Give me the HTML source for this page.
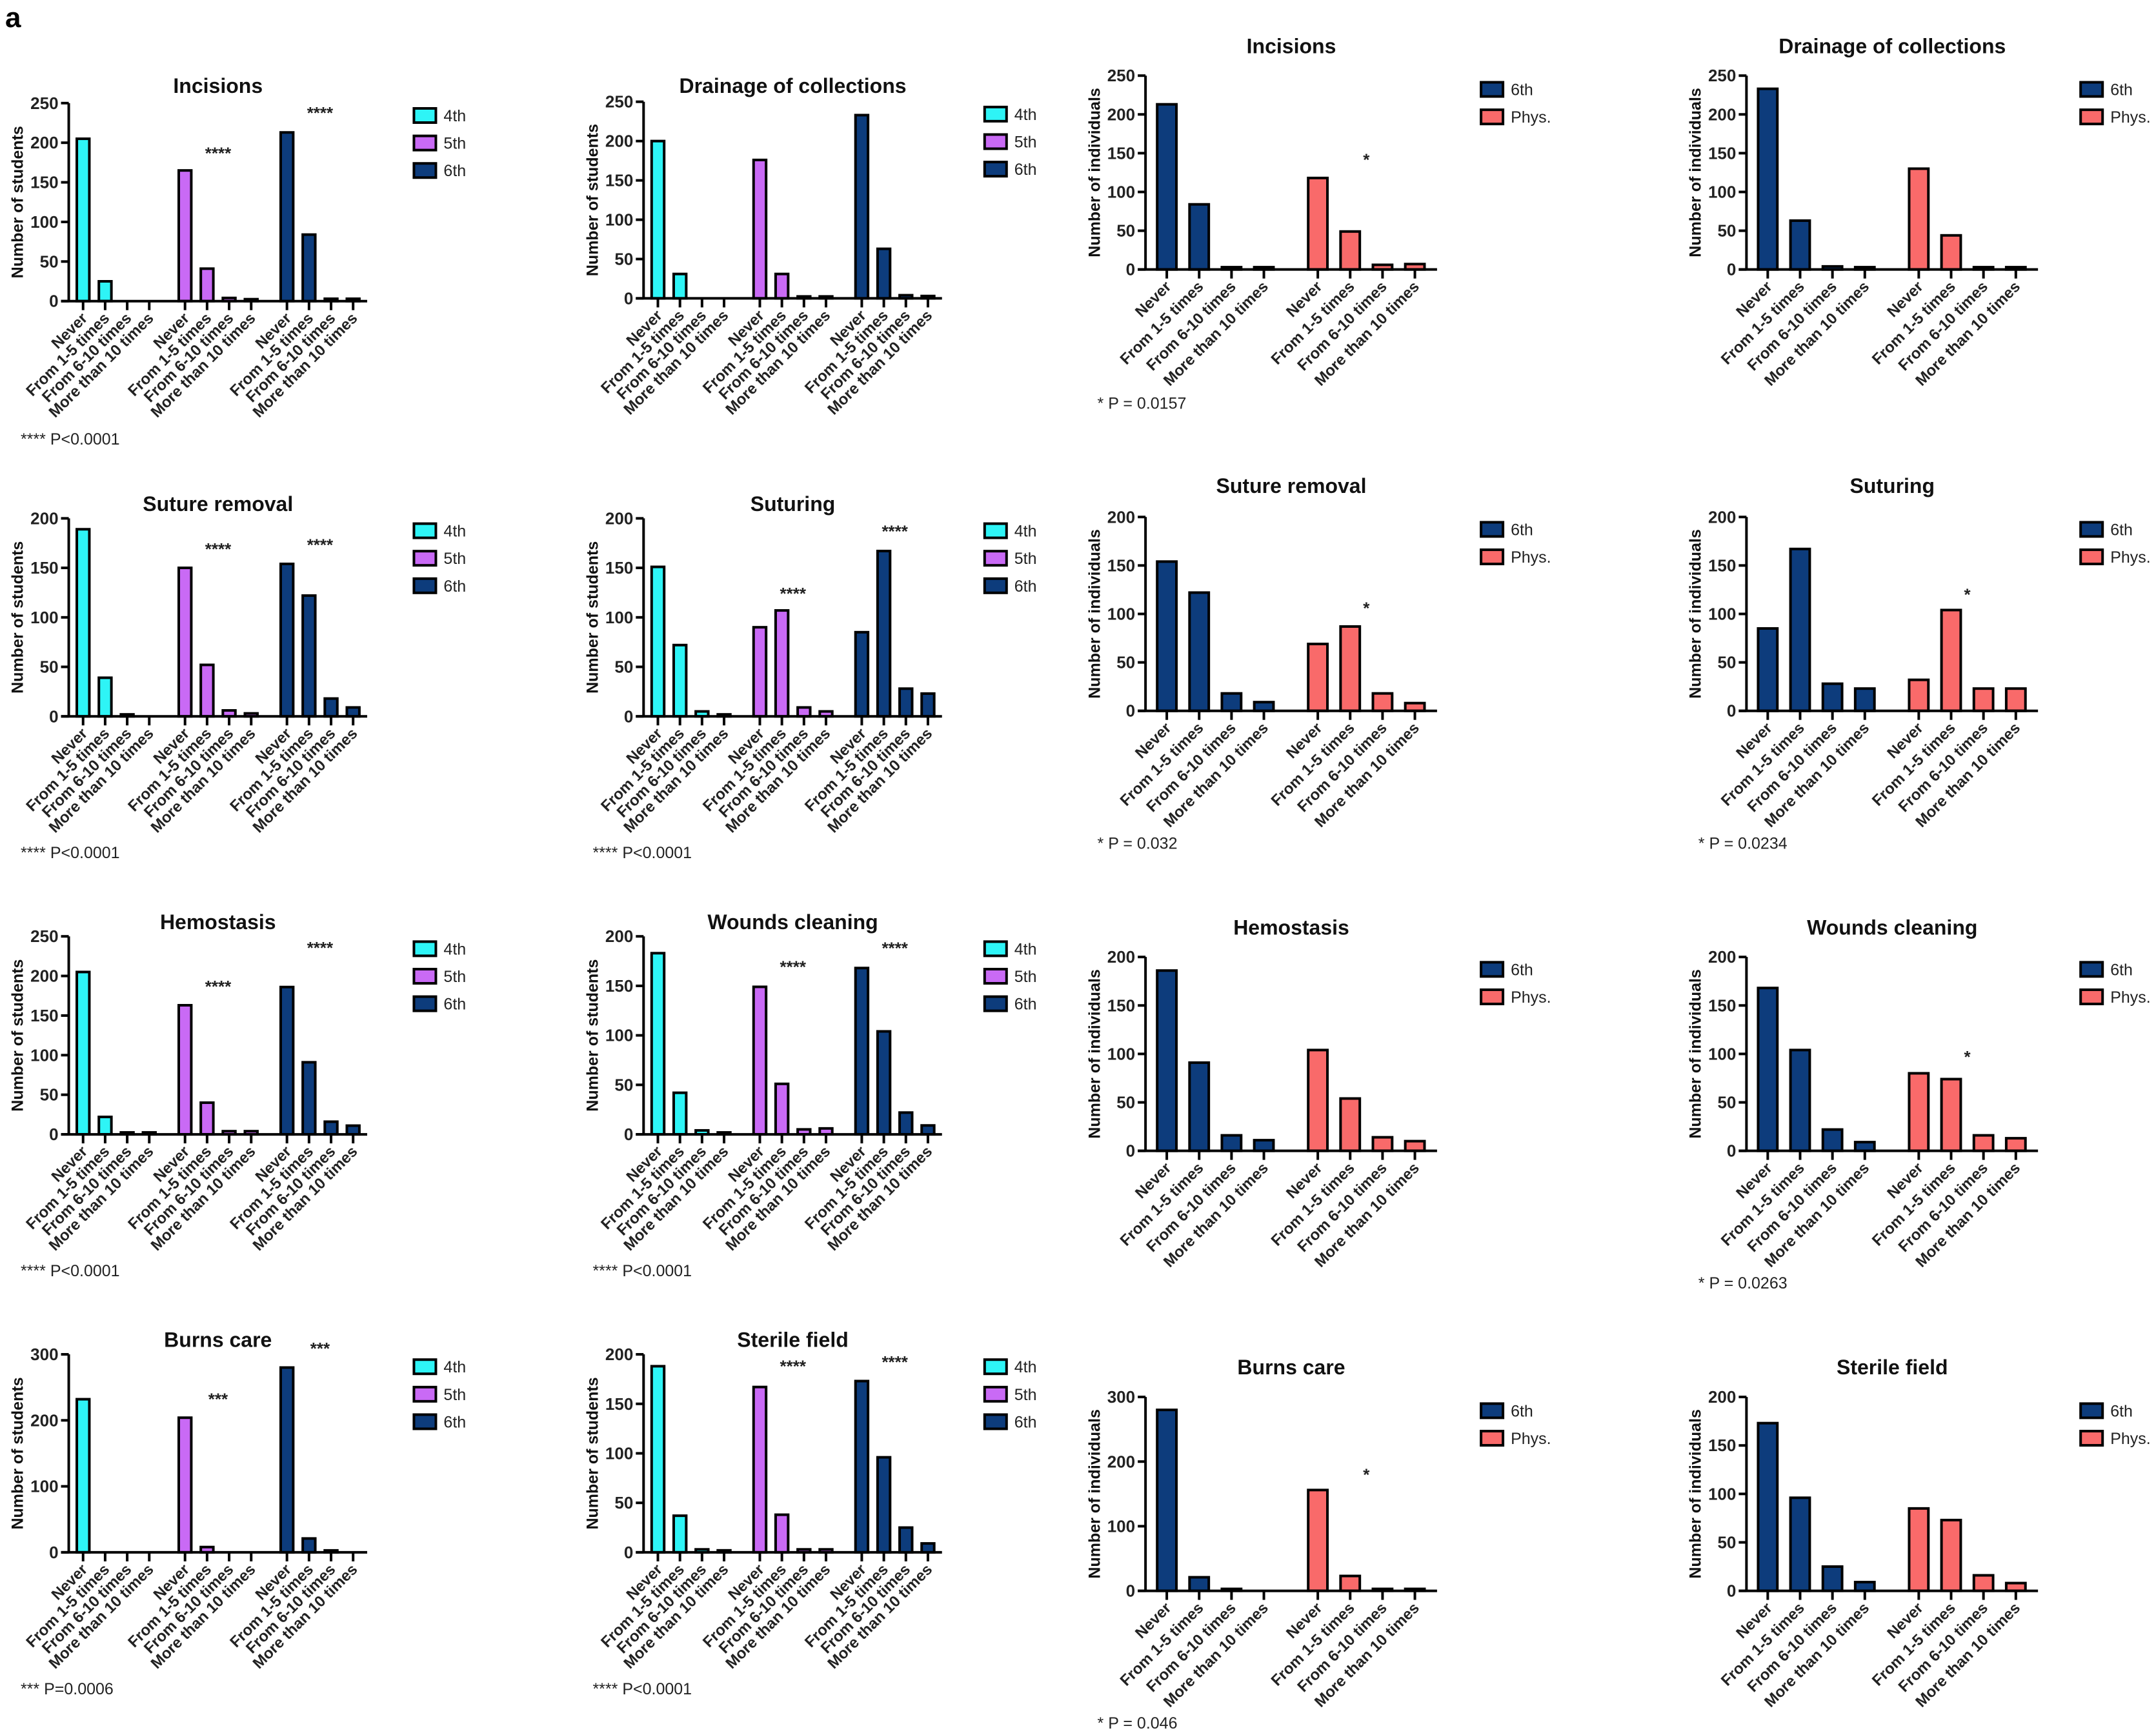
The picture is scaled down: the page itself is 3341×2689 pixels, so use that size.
<!DOCTYPE html>
<html><head><meta charset="utf-8">
<style>
html,body{margin:0;padding:0;background:#fff;}
svg{display:block;font-family:"Liberation Sans",Arial,sans-serif;}
</style></head>
<body>
<svg id="fig" width="3341" height="2689" viewBox="0 0 3341 2689" xmlns="http://www.w3.org/2000/svg">
<text x="8" y="42" font-size="44" font-weight="bold">a</text>
</svg>
<script>
const categories = ["Never","From 1-5 times","From 6-10 times","More than 10 times"];
const incisions4th=[205,25,0,0], incisions5th=[165,41,4,1], incisions6th=[213,84,3,3], incisionsPhys=[118,49,6,7];
const drainage4th=[200,31,0,0], drainage5th=[176,31,2,2], drainage6th=[233,63,4,3], drainagePhys=[130,44,3,3];
const sutureRem4th=[189,39,2,0], sutureRem5th=[150,52,6,3], sutureRem6th=[154,122,18,9], sutureRemPhys=[69,87,18,8];
const suturing4th=[151,72,5,2], suturing5th=[90,107,9,5], suturing6th=[85,167,28,23], suturingPhys=[32,104,23,23];
const hemostasis4th=[205,22,1,2], hemostasis5th=[163,40,4,4], hemostasis6th=[186,91,16,11], hemostasisPhys=[104,54,14,10];
const wounds4th=[183,42,4,1], wounds5th=[149,51,5,6], wounds6th=[168,104,22,9], woundsPhys=[80,74,16,13];
const burns4th=[232,0,0,0], burns5th=[204,8,0,0], burns6th=[280,21,2,0], burnsPhys=[156,23,1,1];
const sterile4th=[188,37,3,2], sterile5th=[167,38,3,3], sterile6th=[173,96,25,9], sterilePhys=[85,73,16,8];
const ticks250=[0,50,100,150,200,250], ticks200=[0,50,100,150,200], ticks300=[0,100,200,300];
const labels3=["4th","5th","6th"], labels2=["6th","Phys."];
const C4="#2ef4f6", C5="#c96af5", C6="#0d3c7c", CP="#f96a6a";

const S=2.131;
const svg=document.getElementById('fig');
const NS="http://www.w3.org/2000/svg";
function el(tag,attrs,parent){const e=document.createElementNS(NS,tag);for(const k in attrs)e.setAttribute(k,attrs[k]);(parent||svg).appendChild(e);return e;}

const panels=[
 {t:"Incisions",ax:50,top:75,zero:219,series:[incisions4th,incisions5th,incisions6th],cols:[C4,C5,C6],leg:labels3,ticks:ticks250,lx:301,ly:84,yt:"Number of students",foot:"**** P<0.0001",fx:15,fy:319,stars:[[1,189,"****"],[2,240,"****"]],ty:62},
 {t:"Drainage of collections",ax:468,top:74,zero:217,series:[drainage4th,drainage5th,drainage6th],cols:[C4,C5,C6],leg:labels3,ticks:ticks250,lx:716,ly:83,yt:"Number of students",foot:"",stars:[],ty:62},
 {t:"Incisions",ax:833,top:55,zero:196,series:[incisions6th,incisionsPhys],cols:[C6,CP],leg:labels2,ticks:ticks250,lx:1077,ly:65,yt:"Number of individuals",foot:"* P = 0.0157",fx:798,fy:293,stars:[[1,144,"*"]],ty:33},
 {t:"Drainage of collections",ax:1270,top:55,zero:196,series:[drainage6th,drainagePhys],cols:[C6,CP],leg:labels2,ticks:ticks250,lx:1513,ly:65,yt:"Number of individuals",foot:"",stars:[],ty:33},

 {t:"Suture removal",ax:50,top:377,zero:521,series:[sutureRem4th,sutureRem5th,sutureRem6th],cols:[C4,C5,C6],leg:labels3,ticks:ticks200,lx:301,ly:386,yt:"Number of students",foot:"**** P<0.0001",fx:15,fy:620,stars:[[1,171,"****"],[2,175,"****"]],ty:366},
 {t:"Suturing",ax:468,top:377,zero:521,series:[suturing4th,suturing5th,suturing6th],cols:[C4,C5,C6],leg:labels3,ticks:ticks200,lx:716,ly:386,yt:"Number of students",foot:"**** P<0.0001",fx:431,fy:620,stars:[[1,126,"****"],[2,189,"****"]],ty:366},
 {t:"Suture removal",ax:833,top:376,zero:517,series:[sutureRem6th,sutureRemPhys],cols:[C6,CP],leg:labels2,ticks:ticks200,lx:1077,ly:385,yt:"Number of individuals",foot:"* P = 0.032",fx:798,fy:613,stars:[[1,108,"*"]],ty:353},
 {t:"Suturing",ax:1270,top:376,zero:517,series:[suturing6th,suturingPhys],cols:[C6,CP],leg:labels2,ticks:ticks200,lx:1513,ly:385,yt:"Number of individuals",foot:"* P = 0.0234",fx:1235,fy:613,stars:[[1,122,"*"]],ty:353},

 {t:"Hemostasis",ax:50,top:681,zero:825,series:[hemostasis4th,hemostasis5th,hemostasis6th],cols:[C4,C5,C6],leg:labels3,ticks:ticks250,lx:301,ly:690,yt:"Number of students",foot:"**** P<0.0001",fx:15,fy:924,stars:[[1,189,"****"],[2,238,"****"]],ty:670},
 {t:"Wounds cleaning",ax:468,top:681,zero:825,series:[wounds4th,wounds5th,wounds6th],cols:[C4,C5,C6],leg:labels3,ticks:ticks200,lx:716,ly:690,yt:"Number of students",foot:"**** P<0.0001",fx:431,fy:924,stars:[[1,171,"****"],[2,190,"****"]],ty:670},
 {t:"Hemostasis",ax:833,top:696,zero:837,series:[hemostasis6th,hemostasisPhys],cols:[C6,CP],leg:labels2,ticks:ticks200,lx:1077,ly:705,yt:"Number of individuals",foot:"",stars:[],ty:674},
 {t:"Wounds cleaning",ax:1270,top:696,zero:837,series:[wounds6th,woundsPhys],cols:[C6,CP],leg:labels2,ticks:ticks200,lx:1513,ly:705,yt:"Number of individuals",foot:"* P = 0.0263",fx:1235,fy:933,stars:[[1,99,"*"]],ty:674},

 {t:"Burns care",ax:50,top:985,zero:1129,series:[burns4th,burns5th,burns6th],cols:[C4,C5,C6],leg:labels3,ticks:ticks300,lx:301,ly:994,yt:"Number of students",foot:"*** P=0.0006",fx:15,fy:1228,stars:[[1,235,"***"],[2,312,"***"]],ty:974},
 {t:"Sterile field",ax:468,top:985,zero:1129,series:[sterile4th,sterile5th,sterile6th],cols:[C4,C5,C6],leg:labels3,ticks:ticks200,lx:716,ly:994,yt:"Number of students",foot:"**** P<0.0001",fx:431,fy:1228,stars:[[1,190,"****"],[2,194,"****"]],ty:974},
 {t:"Burns care",ax:833,top:1016,zero:1157,series:[burns6th,burnsPhys],cols:[C6,CP],leg:labels2,ticks:ticks300,lx:1077,ly:1026,yt:"Number of individuals",foot:"* P = 0.046",fx:798,fy:1253,stars:[[1,183,"*"]],ty:994},
 {t:"Sterile field",ax:1270,top:1016,zero:1157,series:[sterile6th,sterilePhys],cols:[C6,CP],leg:labels2,ticks:ticks200,lx:1513,ly:1026,yt:"Number of individuals",foot:"",stars:[],ty:994}
];

panels.forEach((p,pi)=>{
  const g=el('g',{});
  
  
  const ng=p.series.length;
  const x0=p.ax*S, top=p.top*S, zero=p.zero*S;
  const len = (ng===3?217:212)*S;
  const x1=x0+len;
  const ymax=p.ticks[p.ticks.length-1];
  const yScale=v=>zero-(v/ymax)*(zero-top);
  let first,sp,gap,bw;
  if(ng===3){first=0.048;sp=0.0739;gap=0.046;bw=0.042;} else {first=0.073;sp=0.111;gap=0.074;bw=0.066;}
  const xScale=(gi,ci)=>x0+len*(first+sp*(gi*4+ci)+gap*gi);
  const tt=el('text',{x:(x0+x1)/2,y:p.ty*S+12,'font-size':32,'font-weight':'bold','text-anchor':'middle',fill:'#111'},g);
  tt.textContent=p.t;
  
  
  p.series.forEach((vals,gi)=>{
    vals.forEach((v,ci)=>{
      if(v<=0) return;
      const cx=xScale(gi,ci), y=yScale(v);
      const r=el('rect',{x:cx-bw*len/2,y:Math.min(y,zero-3),width:bw*len,height:Math.max(zero-y,3),fill:p.cols[gi],stroke:'#000','stroke-width':4},g);
      
      
    });
  });
  const ya=el('line',{x1:x0,y1:top,x2:x0,y2:zero,stroke:'#000','stroke-width':4},g);
  
  
  const xa=el('line',{x1:x0-12,y1:zero,x2:x1,y2:zero,stroke:'#000','stroke-width':4},g);
  
  
  p.ticks.forEach(t=>{
    const y=yScale(t);
    el('line',{x1:x0-12,y1:y,x2:x0,y2:y,stroke:'#000','stroke-width':4},g);
    const tl=el('text',{x:x0-16,y:y+9,'font-size':26,'font-weight':'bold','text-anchor':'end',fill:'#222'},g);
    tl.textContent=t;
    
    
  });
  const fs = ng===3?24:24;
  for(let gi=0;gi<ng;gi++){
    categories.forEach((c,ci)=>{
      const cx=xScale(gi,ci);
      el('line',{x1:cx,y1:zero,x2:cx,y2:zero+14,stroke:'#000','stroke-width':4},g);
      const lx=cx+8, ly=zero+28;
      const lt=el('text',{x:lx,y:ly,'font-size':fs,'font-weight':'bold','text-anchor':'end',fill:'#222',transform:`rotate(-45 ${lx} ${ly})`},g);
      lt.textContent=c;
      
      
    });
  }
  const yc=(top+zero)/2, yx=x0-37*S+8;
  const yt=el('text',{x:yx,y:yc,'font-size':25,'font-weight':'bold','text-anchor':'middle',fill:'#111',transform:`rotate(-90 ${yx} ${yc})`},g);
  yt.textContent=p.yt;
  
  
  p.stars.forEach(s=>{
    const sx=(xScale(s[0],1)+xScale(s[0],2))/2;
    const st=el('text',{x:sx,y:yScale(s[1])+12,'font-size':26,'font-weight':'bold','text-anchor':'middle',fill:'#222'},g);
    st.textContent=s[2];
    
    
  });
  p.leg.forEach((l,i)=>{
    const bx=p.lx*S, by=(p.ly+20*i)*S;
    const lb=el('rect',{x:bx,y:by-11,width:34,height:22,fill:p.cols[i],stroke:'#000','stroke-width':4},g);
    
    
    const ltx=el('text',{x:bx+46,y:by+9,'font-size':25,fill:'#222'},g);
    ltx.textContent=l;
    
    
  });
  if(p.foot){
    const ft=el('text',{x:p.fx*S,y:p.fy*S+9,'font-size':25,fill:'#222'},g);
    ft.textContent=p.foot;
    
    
  }
});
</script>
</body></html>
